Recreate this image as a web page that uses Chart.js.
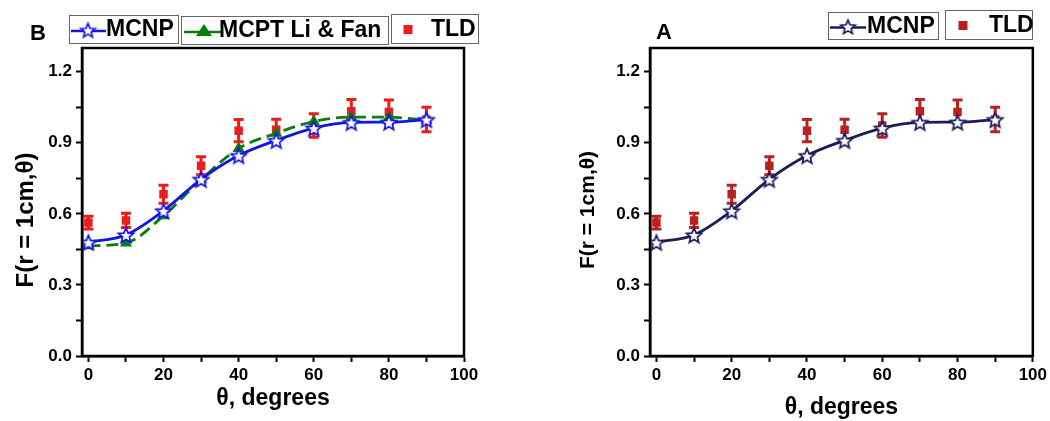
<!DOCTYPE html>
<html>
<head>
<meta charset="utf-8">
<script src="https://cdn.jsdelivr.net/npm/chart.js@4.4.1/dist/chart.umd.min.js"></script>
<style>
  body { margin: 0; background: #fff; }
  #wrap { position: relative; width: 1050px; height: 421px; }
  canvas { position: absolute; top: 0; }
</style>
</head>
<body>
<div id="wrap">
  <canvas id="chartB" width="540" height="421" style="left:0"></canvas>
  <canvas id="chartA" width="510" height="421" style="left:540px"></canvas>
</div>
<script>
// Data
const angles = [0, 10, 20, 30, 40, 50, 60, 70, 80, 90];
const mcnp = [0.480, 0.511, 0.613, 0.746, 0.846, 0.910, 0.962, 0.986, 0.987, 0.998];
const mcptLiFan = [0.465, 0.477, 0.592, 0.745, 0.876, 0.940, 0.990, 1.008, 1.008, 0.995];
const tld = [0.563, 0.572, 0.683, 0.803, 0.951, 0.955, 0.973, 1.033, 1.030, 0.998];
const tldErr = [0.027, 0.030, 0.038, 0.038, 0.047, 0.044, 0.050, 0.050, 0.050, 0.052];
const xTickLabels = [0, 20, 40, 60, 80, 100];
const yTickLabels = [0.0, 0.3, 0.6, 0.9, 1.2];

const FONT = "'Liberation Sans', Arial, sans-serif";

function toPoints(values) {
    return angles.map((a, i) => ({ x: a, y: values[i] }));
}

// five pointed star used as a marker
function makeStar(stroke, r) {
    const c = document.createElement('canvas');
    const s = Math.ceil(r * 2 + 4);
    c.width = c.height = s;
    const g = c.getContext('2d');
    g.beginPath();
    for (let i = 0; i < 10; i++) {
        const rad = i % 2 ? r * 0.45 : r;
        const a = -Math.PI / 2 + i * Math.PI / 5;
        g.lineTo(s / 2 + rad * Math.cos(a), s / 2 + 1 + rad * Math.sin(a));
    }
    g.closePath();
    g.fillStyle = '#fff';
    g.fill();
    g.lineWidth = 1.7;
    g.strokeStyle = stroke;
    g.stroke();
    return c;
}

function drawMarker(ctx, type, color, x, y) {
    ctx.save();
    ctx.fillStyle = color;
    if (type === 'star') {
        const img = makeStar(color, 7.5);
        ctx.drawImage(img, x - img.width / 2, y - img.height / 2);
    } else if (type === 'tri') {
        ctx.beginPath();
        ctx.moveTo(x, y - 7);
        ctx.lineTo(x + 8, y + 5);
        ctx.lineTo(x - 8, y + 5);
        ctx.closePath();
        ctx.fill();
    } else {
        ctx.fillRect(x - 4.5, y - 4.5, 9, 9);
    }
    ctx.restore();
}

// error bars, legend boxes, panel letter, y title and plot frame
const decorPlugin = {
    id: 'decor',
    beforeDatasetsDraw(chart) {
        const ctx = chart.ctx;
        const ys = chart.scales.y;
        chart.data.datasets.forEach((ds, di) => {
            if (!ds.errors) return;
            const meta = chart.getDatasetMeta(di);
            ctx.save();
            ctx.strokeStyle = ds.backgroundColor;
            ctx.lineWidth = 3;
            meta.data.forEach((pt, i) => {
                const v = ds.data[i].y;
                const top = ys.getPixelForValue(v + ds.errors[i]);
                const bot = ys.getPixelForValue(v - ds.errors[i]);
                ctx.beginPath();
                ctx.moveTo(pt.x, top); ctx.lineTo(pt.x, bot);
                ctx.moveTo(pt.x - 5, top); ctx.lineTo(pt.x + 5, top);
                ctx.moveTo(pt.x - 5, bot); ctx.lineTo(pt.x + 5, bot);
                ctx.stroke();
            });
            ctx.restore();
        });
    },
    afterDraw(chart, args, opts) {
        const ctx = chart.ctx;
        const area = chart.chartArea;
        ctx.save();
        // frame
        ctx.strokeStyle = '#000';
        ctx.lineWidth = 2.5;
        ctx.strokeRect(area.left, area.top, area.right - area.left, area.bottom - area.top);

        // panel letter
        ctx.fillStyle = '#000';
        ctx.font = 'bold 22px ' + FONT;
        ctx.textBaseline = 'middle';
        ctx.textAlign = 'left';
        ctx.fillText(opts.letter.text, opts.letter.x, opts.letter.y);

        // y axis title
        ctx.save();
        ctx.translate(opts.yTitle.x, opts.yTitle.y);
        ctx.rotate(-Math.PI / 2);
        ctx.textAlign = 'center';
        ctx.font = 'bold ' + opts.yTitle.size + 'px ' + FONT;
        ctx.fillText('F(r = 1cm,θ)', 0, 0);
        ctx.restore();

        // legend
        opts.legend.forEach(item => {
            const [bx, by, bw, bh] = item.box;
            const cy = by + bh / 2;
            ctx.lineWidth = 1;
            ctx.strokeStyle = '#666';
            ctx.strokeRect(bx + 0.5, by + 0.5, bw, bh);
            if (item.line) {
                ctx.save();
                ctx.strokeStyle = item.color;
                ctx.lineWidth = 2.5;
                ctx.beginPath();
                ctx.moveTo(item.line[0], cy + 2);
                ctx.lineTo(item.line[1], cy + 2);
                ctx.stroke();
                ctx.restore();
            }
            drawMarker(ctx, item.sym, item.color, item.symX, cy + 1);
            ctx.fillStyle = '#000';
            ctx.font = 'bold 23px ' + FONT;
            ctx.textAlign = 'left';
            ctx.fillText(item.text, item.textX, cy + 1);
        });
        ctx.restore();
    }
};

function makeChart(id, datasets, layout, decor) {
    const tickFont = { family: FONT, size: 17, weight: 'bold' };
    return new Chart(document.getElementById(id), {
        type: 'scatter',
        data: { datasets: datasets },
        options: {
            responsive: false,
            animation: false,
            layout: { padding: { left: 0, right: layout.padRight, top: 48, bottom: 0 } },
            plugins: {
                legend: { display: false },
                tooltip: { enabled: false },
                decor: decor
            },
            scales: {
                x: {
                    type: 'linear',
                    min: -1.7,
                    max: 100,
                    afterFit: (s) => { s.height = 65; },
                    ticks: {
                        stepSize: 10,
                        includeBounds: false,
                        autoSkip: false,
                        maxRotation: 0,
                        color: '#000',
                        font: tickFont,
                        padding: 3,
                        callback: (v) => xTickLabels.includes(v) ? String(v) : ''
                    },
                    grid: { drawOnChartArea: false, drawTicks: true, tickLength: 6, tickWidth: 2, tickColor: '#000' },
                    border: { display: true, color: '#000', width: 2.5 },
                    title: {
                        display: true,
                        text: 'θ, degrees',
                        color: '#000',
                        font: { family: FONT, size: 23, weight: 'bold' },
                        padding: { top: 0, bottom: layout.xTitlePad }
                    }
                },
                y: {
                    min: 0,
                    max: 1.3,
                    afterFit: (s) => { s.width = layout.yWidth; },
                    ticks: {
                        stepSize: 0.15,
                        includeBounds: false,
                        autoSkip: false,
                        color: '#000',
                        font: tickFont,
                        padding: 4,
                        callback: (v) => yTickLabels.some(t => Math.abs(t - v) < 1e-6) ? v.toFixed(1) : ''
                    },
                    grid: { drawOnChartArea: false, drawTicks: true, tickLength: 6, tickWidth: 2, tickColor: '#000' },
                    border: { display: true, color: '#000', width: 2.5 }
                }
            }
        },
        plugins: [decorPlugin]
    });
}

// Panel B
const blue = '#1414e6';
const green = '#0b7d10';
const red = '#ee1b1b';
makeChart('chartB', [
    {
        label: 'MCNP',
        data: toPoints(mcnp),
        showLine: true,
        borderColor: blue,
        borderWidth: 2.8,
        cubicInterpolationMode: 'monotone',
        pointStyle: makeStar(blue, 8),
        backgroundColor: blue
    },
    {
        label: 'MCPT Li & Fan',
        data: toPoints(mcptLiFan),
        showLine: true,
        borderColor: green,
        borderWidth: 2.8,
        borderDash: [12, 6],
        cubicInterpolationMode: 'monotone',
        pointStyle: 'triangle',
        pointRadius: 7,
        pointBorderWidth: 0,
        backgroundColor: green
    },
    {
        label: 'TLD',
        data: toPoints(tld),
        errors: tldErr,
        showLine: false,
        pointStyle: 'rect',
        pointRadius: 6,
        pointBorderWidth: 0,
        backgroundColor: red,
        borderColor: red
    }
], { padRight: 76, yWidth: 82, xTitlePad: 9 }, {
    letter: { text: 'B', x: 30, y: 34 },
    yTitle: { x: 26, y: 220, size: 24 },
    legend: [
        { box: [69, 15, 109, 28], sym: 'star', color: blue, line: [71, 106], symX: 88, text: 'MCNP', textX: 106 },
        { box: [181, 16, 207, 28], sym: 'tri', color: green, line: [184, 221], symX: 204, text: 'MCPT Li & Fan', textX: 219 },
        { box: [391, 14, 87, 29], sym: 'rect', color: red, symX: 408, text: 'TLD', textX: 431 }
    ]
});

// Panel A
const navy = '#1c1c5c';
const darkRed = '#bb2020';
makeChart('chartA', [
    {
        label: 'MCNP',
        data: toPoints(mcnp),
        showLine: true,
        borderColor: navy,
        borderWidth: 2.8,
        cubicInterpolationMode: 'monotone',
        pointStyle: makeStar(navy, 8),
        backgroundColor: navy
    },
    {
        label: 'TLD',
        data: toPoints(tld),
        errors: tldErr,
        showLine: false,
        pointStyle: 'rect',
        pointRadius: 6,
        pointBorderWidth: 0,
        backgroundColor: darkRed,
        borderColor: darkRed
    }
], { padRight: 15, yWidth: 110, xTitlePad: 0 }, {
    letter: { text: 'A', x: 116, y: 33 },
    yTitle: { x: 48, y: 210, size: 21 },
    legend: [
        { box: [288, 12, 110, 27], sym: 'star', color: navy, line: [290, 326], symX: 308, text: 'MCNP', textX: 327 },
        { box: [405, 10, 87, 29], sym: 'rect', color: darkRed, symX: 423, text: 'TLD', textX: 449 }
    ]
});
</script>
</body>
</html>
